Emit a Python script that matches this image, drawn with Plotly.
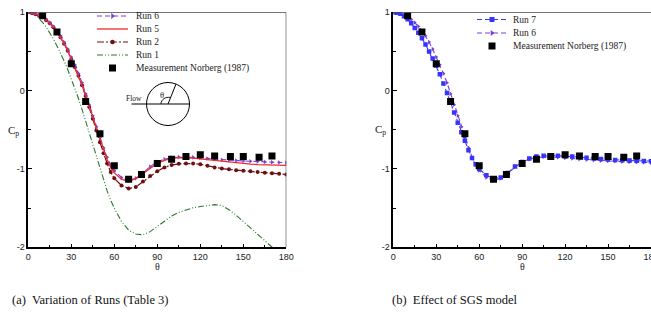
import plotly.graph_objects as go

# ---------------- data ----------------
theta = [0, 2.5, 5, 7.5, 10, 12.5, 15, 17.5, 20, 22.5, 25, 27.5, 30, 32.5, 35, 37.5,
         40, 42.5, 45, 47.5, 50, 52.5, 55, 57.5, 60, 65, 70, 75, 80, 85, 90, 95, 100,
         105, 110, 115, 120, 125, 130, 135, 140, 145, 150, 155, 160, 165, 170, 175, 180]

run5 = [1.0, 0.99, 0.975, 0.96, 0.94, 0.90, 0.86, 0.81, 0.75, 0.68, 0.60, 0.51, 0.40, 0.30,
        0.19, 0.07, -0.07, -0.21, -0.35, -0.49, -0.63, -0.76, -0.88, -0.98, -1.05,
        -1.13, -1.16, -1.12, -1.06, -0.99, -0.93, -0.89, -0.865, -0.855, -0.855, -0.86,
        -0.87, -0.88, -0.895, -0.905, -0.915, -0.925, -0.93, -0.938, -0.944, -0.948,
        -0.951, -0.953, -0.955]

run6 = [1.0, 0.995, 0.98, 0.965, 0.945, 0.91, 0.87, 0.82, 0.765, 0.70, 0.62, 0.53, 0.43,
        0.33, 0.22, 0.10, -0.04, -0.18, -0.32, -0.46, -0.60, -0.73, -0.85, -0.95, -1.02,
        -1.11, -1.145, -1.12, -1.05, -0.97, -0.91, -0.875, -0.855, -0.848, -0.848, -0.852,
        -0.86, -0.867, -0.875, -0.882, -0.888, -0.893, -0.897, -0.902, -0.906, -0.91,
        -0.914, -0.917, -0.92]

run2 = [1.0, 0.99, 0.975, 0.96, 0.94, 0.90, 0.86, 0.81, 0.75, 0.68, 0.60, 0.51, 0.40, 0.30,
        0.19, 0.07, -0.07, -0.21, -0.36, -0.51, -0.66, -0.80, -0.93, -1.04, -1.12,
        -1.21, -1.25, -1.23, -1.16, -1.09, -1.03, -0.98, -0.95, -0.935, -0.93, -0.93,
        -0.94, -0.96, -0.98, -0.995, -1.005, -1.015, -1.022, -1.03, -1.04, -1.048,
        -1.055, -1.062, -1.07]

run1 = [1.0, 0.99, 0.965, 0.92, 0.87, 0.81, 0.74, 0.66, 0.57, 0.48, 0.38, 0.27, 0.15, 0.03,
        -0.10, -0.24, -0.39, -0.54, -0.70, -0.85, -1.0, -1.15, -1.28, -1.40, -1.50,
        -1.67, -1.78, -1.83, -1.84, -1.80, -1.73, -1.66, -1.60, -1.555, -1.52, -1.495,
        -1.48, -1.465, -1.455, -1.465, -1.52, -1.59, -1.67, -1.755, -1.84, -1.92,
        -2.0, -2.08, -2.16]

run7 = [1.0, 0.995, 0.98, 0.95, 0.91, 0.86, 0.80, 0.74, 0.67, 0.59, 0.50, 0.41, 0.32, 0.21,
        0.09, -0.03, -0.15, -0.28, -0.41, -0.53, -0.64, -0.76, -0.86, -0.94, -1.0,
        -1.08, -1.12, -1.11, -1.05, -0.97, -0.91, -0.865, -0.84, -0.832, -0.83, -0.832,
        -0.835, -0.84, -0.848, -0.857, -0.865, -0.872, -0.878, -0.884, -0.889, -0.893,
        -0.896, -0.898, -0.90]

theta_meas = [10, 20, 30, 40, 50, 60, 70, 79, 90, 100, 110, 120, 130, 141, 150, 161, 170]
cp_meas = [0.957, 0.75, 0.344, -0.14, -0.55, -0.96, -1.13, -1.07, -0.93, -0.877, -0.84,
           -0.82, -0.835, -0.84, -0.84, -0.85, -0.835]

x_ticks = [0, 30, 60, 90, 120, 150, 180]
y_ticks = [-2, -1, 0, 1]
y_ticktext = ["-2", "-1", "0", "1"]

names_left = ["Run 6", "Run 5", "Run 2", "Run 1", "Measurement Norberg (1987)"]
names_right = ["Run 7", "Run 6", "Measurement Norberg (1987)"]
captions = ["(a)  Variation of Runs (Table 3)", "(b)  Effect of SGS model"]

# ---------------- styles ----------------
W, H = 651, 322
C6 = "#7b3fd6"
C5 = "#ee2a2a"
C2 = "#6e1010"
C1 = "#2a7a2a"
C7 = "#3535ff"
SERIF = "Liberation Serif"
SANS = "Liberation Sans"
DASH1 = "6px,2px,1px,2px,1px,2px"
DASH2 = "7px,2px,2px,2px"
DASH6 = "5px,3px"
DASH7 = "5px,3px"

fig = go.Figure()
L = dict(xaxis="x", yaxis="y", showlegend=False, hoverinfo="skip")
R = dict(xaxis="x2", yaxis="y2", showlegend=False, hoverinfo="skip")
P = dict(xaxis="x3", yaxis="y3", showlegend=False, hoverinfo="skip")

# left panel
fig.add_trace(go.Scatter(x=theta, y=run1, mode="lines",
                         line=dict(color=C1, width=1.1, dash=DASH1), **L))
fig.add_trace(go.Scatter(x=theta, y=run2, mode="lines+markers",
                         line=dict(color=C2, width=1.2, dash=DASH2),
                         marker=dict(symbol="circle", size=4, color=C2), **L))
fig.add_trace(go.Scatter(x=theta, y=run6, mode="lines+markers",
                         line=dict(color=C6, width=1.1, dash=DASH6),
                         marker=dict(symbol="triangle-right", size=4, color=C6), **L))
fig.add_trace(go.Scatter(x=theta, y=run5, mode="lines",
                         line=dict(color=C5, width=1.3), **L))
fig.add_trace(go.Scatter(x=theta_meas, y=cp_meas, mode="markers",
                         marker=dict(symbol="square", size=7, color="black"), **L))

# right panel
fig.add_trace(go.Scatter(x=theta, y=run6, mode="lines+markers",
                         line=dict(color=C6, width=1.1, dash=DASH6),
                         marker=dict(symbol="triangle-right", size=4, color=C6), **R))
fig.add_trace(go.Scatter(x=theta, y=run7, mode="lines+markers",
                         line=dict(color=C7, width=1.1, dash=DASH7),
                         marker=dict(symbol="square", size=4.5, color=C7), **R))
fig.add_trace(go.Scatter(x=theta_meas, y=cp_meas, mode="markers",
                         marker=dict(symbol="square", size=7, color="black"), **R))

# ---------------- legends (drawn in pixel space) ----------------
annotations = []
leg_left_rows = [16, 29, 42, 55, 68]
leg_left_styles = [
    dict(line=dict(color=C6, width=1.1, dash=DASH6), marker=dict(symbol="triangle-right", size=5, color=C6)),
    dict(line=dict(color=C5, width=1.3), marker=None),
    dict(line=dict(color=C2, width=1.2, dash=DASH2), marker=dict(symbol="circle", size=4.5, color=C2)),
    dict(line=dict(color=C1, width=1.1, dash=DASH1), marker=None),
    dict(line=None, marker=dict(symbol="square", size=7, color="black")),
]
lx0, lx1, ltx = 97, 128, 134
for name, yy, st in zip(names_left, leg_left_rows, leg_left_styles):
    if st["line"] is not None:
        fig.add_trace(go.Scatter(x=[lx0, lx1], y=[yy, yy], mode="lines", line=st["line"], **P))
    if st["marker"] is not None:
        fig.add_trace(go.Scatter(x=[(lx0 + lx1) / 2], y=[yy], mode="markers", marker=st["marker"], **P))
    annotations.append(dict(x=ltx, y=yy, xref="x3", yref="y3", text=name, showarrow=False,
                            xanchor="left", yanchor="middle",
                            font=dict(family=SERIF, size=9.5, color="#222")))

leg_right_rows = [19.5, 33, 46]
leg_right_styles = [
    dict(line=dict(color=C7, width=1.1, dash=DASH7), marker=dict(symbol="square", size=5, color=C7)),
    dict(line=dict(color=C6, width=1.1, dash=DASH6), marker=dict(symbol="triangle-right", size=5, color=C6)),
    dict(line=None, marker=dict(symbol="square", size=7, color="black")),
]
rx0, rx1, rtx = 477, 507, 511
for name, yy, st in zip(names_right, leg_right_rows, leg_right_styles):
    if st["line"] is not None:
        fig.add_trace(go.Scatter(x=[rx0, rx1], y=[yy, yy], mode="lines", line=st["line"], **P))
    if st["marker"] is not None:
        fig.add_trace(go.Scatter(x=[(rx0 + rx1) / 2], y=[yy], mode="markers", marker=st["marker"], **P))
    annotations.append(dict(x=rtx, y=yy, xref="x3", yref="y3", text=name, showarrow=False,
                            xanchor="left", yanchor="middle",
                            font=dict(family=SERIF, size=9.5, color="#222")))

# ---------------- inset sketch ----------------
cx, cy, rr = 168, 104, 21.5
shapes = [
    dict(type="circle", xref="x3", yref="y3", x0=cx - rr, x1=cx + rr, y0=cy - rr, y1=cy + rr,
         line=dict(color="black", width=1)),
    dict(type="line", xref="x3", yref="y3", x0=131.5, x1=190, y0=cy, y1=cy,
         line=dict(color="black", width=1.2)),
    dict(type="line", xref="x3", yref="y3", x0=cx, x1=176, y0=cy, y1=84,
         line=dict(color="black", width=1)),
    dict(type="path", xref="x3", yref="y3",
         path="M 161,104 C 161,99.5 165.5,96.5 170.6,97.5",
         line=dict(color="black", width=0.9)),
]
annotations.append(dict(x=134, y=98.5, xref="x3", yref="y3", text="Flow", showarrow=False,
                        font=dict(family=SERIF, size=7.5, color="#222")))
annotations.append(dict(x=161.5, y=94.5, xref="x3", yref="y3", text="θ", showarrow=False,
                        font=dict(family=SERIF, size=8.5, color="#222")))

# panel frames (top / right)
shapes.append(dict(type="line", xref="x", yref="y", x0=0, x1=180, y0=1, y1=1,
                   line=dict(color="#444", width=1.2)))
shapes.append(dict(type="line", xref="x", yref="y", x0=180, x1=180, y0=-2, y1=1,
                   line=dict(color="#444", width=1.2)))
shapes.append(dict(type="line", xref="x2", yref="y2", x0=0, x1=180, y0=1, y1=1,
                   line=dict(color="#444", width=1.2)))

# axis titles
for xpix, ypix in [(13, 131), (380, 130)]:
    annotations.append(dict(x=xpix, y=ypix, xref="x3", yref="y3", text="C<sub>p</sub>",
                            showarrow=False, font=dict(family=SERIF, size=11, color="#222")))
for xpix in [157.3, 522.5]:
    annotations.append(dict(x=xpix, y=266, xref="x3", yref="y3", text="θ",
                            showarrow=False, font=dict(family=SERIF, size=10, color="#222")))
# captions
for cap, xpix in zip(captions, [90, 455]):
    annotations.append(dict(x=xpix, y=300, xref="x3", yref="y3", text=cap,
                            showarrow=False, font=dict(family=SERIF, size=12.5, color="#111")))

ydom = [(H - 247.3) / H, (H - 12.3) / H]
xax = dict(range=[0, 180], showline=True, linecolor="black", linewidth=1.6,
           tickvals=x_ticks, ticks="inside", ticklen=4, tickcolor="black", tickwidth=1,
           minor=dict(ticks="inside", ticklen=3, dtick=15, tick0=0, tickcolor="black"),
           showgrid=False, zeroline=False, fixedrange=True, automargin=False,
           ticklabeloverflow="allow",
           tickfont=dict(family=SANS, size=9, color="#222"))
yax = dict(range=[-2, 1], showline=True, linecolor="black", linewidth=1.6,
           tickvals=y_ticks, ticktext=y_ticktext, ticks="inside", ticklen=4,
           tickcolor="black", tickwidth=1,
           minor=dict(ticks="inside", ticklen=3, dtick=0.5, tick0=0, tickcolor="black"),
           showgrid=False, zeroline=False, fixedrange=True, domain=ydom, automargin=False,
           tickfont=dict(family=SANS, size=9, color="#222"))

fig.update_layout(
    template="none",
    width=W, height=H, autosize=False,
    margin=dict(l=0, r=0, t=0, b=0, pad=0),
    paper_bgcolor="white", plot_bgcolor="rgba(0,0,0,0)",
    showlegend=False, hovermode=False,
    xaxis=dict(xax, domain=[28.3 / W, 286.3 / W], anchor="y"),
    yaxis=dict(yax, anchor="x"),
    xaxis2=dict(xax, domain=[393.3 / W, 1.0], anchor="y2"),
    yaxis2=dict(yax, anchor="x2"),
    xaxis3=dict(domain=[0, 1], range=[0, W], visible=False, fixedrange=True,
                anchor="y3", automargin=False),
    yaxis3=dict(domain=[0, 1], range=[H, 0], visible=False, fixedrange=True,
                anchor="x3", automargin=False),
    shapes=shapes,
    annotations=annotations,
)

fig.write_html("out.html", config={"displayModeBar": False},
               post_script="document.body.style.margin='0';document.body.style.overflow='hidden';")
